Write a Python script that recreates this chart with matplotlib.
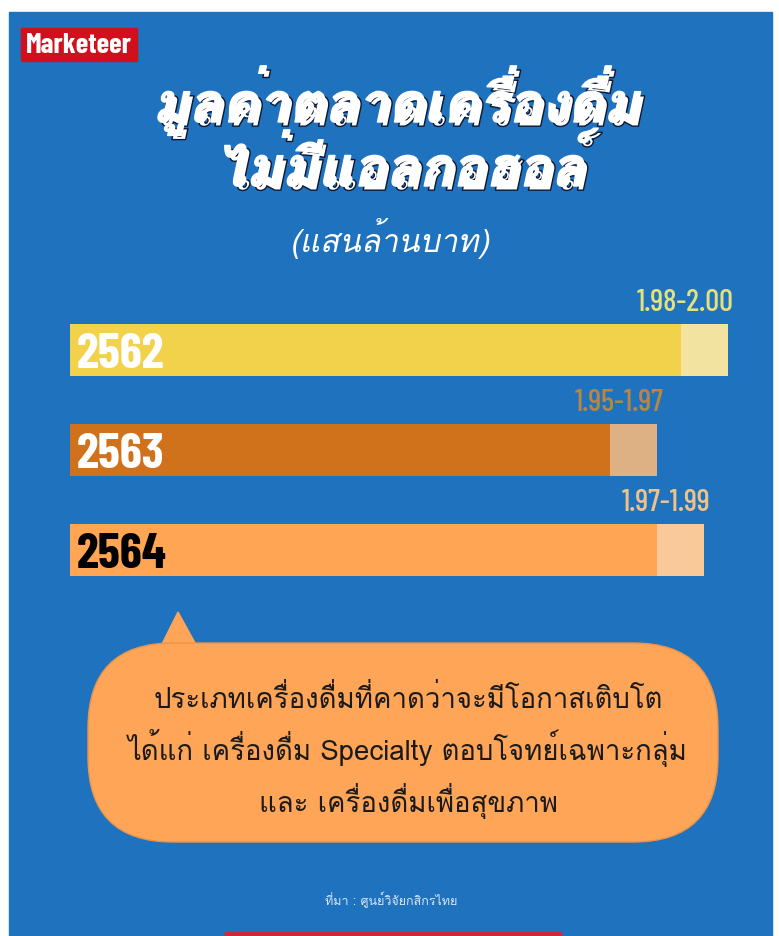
import matplotlib
matplotlib.use("Agg")
import matplotlib.pyplot as plt
import matplotlib.patheffects as pe
from matplotlib.patches import Rectangle, FancyBboxPatch, Polygon

# ข้อมูล: มูลค่าตลาดเครื่องดื่มไม่มีแอลกอฮอล์ (แสนล้านบาท)
years = ["2562", "2563", "2564"]
low = [1.98, 1.95, 1.97]
high = [2.00, 1.97, 1.99]
range_labels = ["1.98-2.00", "1.95-1.97", "1.97-1.99"]

bar_colors = ["#F2D24B", "#D0721B", "#FFA553"]
light_colors = ["#F3E3A0", "#DDB183", "#F9C99A"]
label_colors = ["#E6E27A", "#B98642", "#F1C288"]
year_colors = ["white", "white", "black"]

base = 1.7212  # แกนเริ่มไม่ใช่ศูนย์ เหมือนภาพต้นฉบับ

# Loma วางวรรณยุกต์บนสระบนได้ถูกต้อง (Kanit ทับกัน)
TH = ["Loma", "Kanit", "Noto Sans Thai", "DejaVu Sans"]
NUM = ["Barlow Condensed", "Archivo Narrow", "DejaVu Sans"]

W, H = 779, 936
fig = plt.figure(figsize=(W / 100, H / 100), dpi=100, facecolor="white")
rend = fig.canvas.get_renderer()


def fit_width(t, target_px):
    # ปรับขนาดฟอนต์ให้ความกว้างตรงกับภาพต้นฉบับ
    w = t.get_window_extent(renderer=rend).width
    t.set_fontsize(t.get_fontsize() * target_px / w)
    return t.get_fontsize()


# พื้นหลัง (พิกัดเป็นพิกเซล)
bg = fig.add_axes([0, 0, 1, 1])
bg.set_xlim(0, W)
bg.set_ylim(H, 0)
bg.axis("off")
bg.add_patch(Rectangle((9, 12), 763, H - 12, color="#1E72BE", zorder=0))

# โลโก้
bg.add_patch(Rectangle((21, 28), 116, 33, color="#D0101C", zorder=1))
logo = bg.text(79, 53, "Marketeer", color="white", fontsize=20, fontweight="bold",
               family=NUM, ha="center", va="baseline", zorder=2)
fit_width(logo, 106)

# หัวเรื่อง (เงาเข้ม)
shadow = [pe.Stroke(offset=(3, -3), linewidth=1.0, foreground="#0B1630"),
          pe.Stroke(linewidth=1.0, foreground="white"), pe.Normal()]
t1 = bg.text(396, 122, "มูลค่าตลาดเครื่องดื่ม", color="white", fontsize=40, fontweight="bold",
             style="italic", family=TH, ha="center", va="baseline", path_effects=shadow)
fs = fit_width(t1, 487)
bg.text(400, 186, "ไม่มีแอลกอฮอล์", color="white", fontsize=fs, fontweight="bold",
        style="italic", family=TH, ha="center", va="baseline", path_effects=shadow)
sub = bg.text(390, 252, "(แสนล้านบาท)", color="white", fontsize=22,
              style="italic", family=TH, ha="center", va="baseline")
fit_width(sub, 200)

# แท่งกราฟ
ax = fig.add_axes([70 / W, 1 - 600 / H, 658 / W, 300 / H])
ax.patch.set_alpha(0)
ax.set_xlim(base, 2.00)
ax.set_ylim(2.5, -0.5)
ax.axis("off")

ypos = list(range(len(years)))
ax.barh(ypos, [v - base for v in low], left=base, height=0.52, color=bar_colors)
ax.barh(ypos, [h - l for h, l in zip(high, low)], left=low, height=0.52, color=light_colors)

lab_fs = None
for i in ypos:
    ax.annotate(years[i], (base, i), xytext=(7, -18), textcoords="offset pixels",
                color=year_colors[i], fontsize=36, fontweight="bold", family=NUM,
                ha="left", va="baseline")
    lab = ax.annotate(range_labels[i], (high[i], i), xytext=(6, 39), textcoords="offset pixels",
                      color=label_colors[i], fontsize=22, fontweight="medium", family=NUM,
                      ha="right", va="baseline", annotation_clip=False)
    if lab_fs is None:
        lab_fs = fit_width(lab, 97)
    else:
        lab.set_fontsize(lab_fs)

# กล่องข้อความ
bubble_col = "#FFA557"
bg.add_patch(Polygon([(158, 652), (178, 612), (200, 652)], closed=True,
                     color=bubble_col, zorder=3))
bg.add_patch(FancyBboxPatch((88, 643), 630, 199, boxstyle="round,pad=0,rounding_size=85",
                            facecolor=bubble_col, edgecolor="#E8944A", lw=1, zorder=3))
bubble_lines = ["ประเภทเครื่องดื่มที่คาดว่าจะมีโอกาสเติบโต",
                "ได้แก่ เครื่องดื่ม Specialty ตอบโจทย์เฉพาะกลุ่ม",
                "และ เครื่องดื่มเพื่อสุขภาพ"]
btexts = []
for k, line in enumerate(bubble_lines):
    btexts.append(bg.text(408, 708 + 52 * k, line, color="#1A1A1A", fontsize=19,
                          family=TH, ha="center", va="baseline", zorder=4))
bfs = fit_width(btexts[1], 560)
for t in btexts:
    t.set_fontsize(bfs)

# ที่มา
src = bg.text(391, 905, "ที่มา : ศูนย์วิจัยกสิกรไทย", color="#DCE6F4", fontsize=10,
              family=TH, ha="center", va="baseline")
fit_width(src, 132)
bg.add_patch(Rectangle((225, 932), 336, 6, color="#D4243A", zorder=2))

fig.savefig("out.png", dpi=100, facecolor="white")
